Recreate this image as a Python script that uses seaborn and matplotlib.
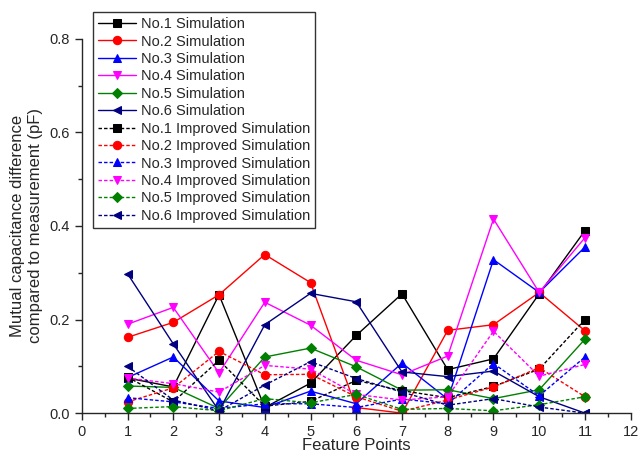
import numpy as np
import pandas as pd
import matplotlib
matplotlib.use('Agg')
import matplotlib.pyplot as plt
from matplotlib.ticker import MultipleLocator
import seaborn as sns

sns.set_style('ticks')
plt.rcParams['font.family'] = ['Liberation Sans', 'DejaVu Sans']

points = [1, 2, 3, 4, 5, 6, 7, 8, 9, 10, 11]

sim1 = [0.075, 0.056, 0.253, 0.012, 0.064, 0.166, 0.255, 0.093, 0.116, 0.255, 0.39]
sim2 = [0.162, 0.194, 0.253, 0.339, 0.279, 0.012, 0.0, 0.177, 0.189, 0.258, 0.176]
sim3 = [0.076, 0.12, 0.026, 0.012, 0.047, 0.02, 0.107, 0.03, 0.328, 0.258, 0.355]
sim4 = [0.19, 0.226, 0.086, 0.237, 0.188, 0.113, 0.082, 0.122, 0.415, 0.258, 0.375]
sim5 = [0.058, 0.055, 0.01, 0.12, 0.139, 0.099, 0.049, 0.05, 0.031, 0.05, 0.158]
sim6 = [0.298, 0.148, 0.005, 0.189, 0.256, 0.238, 0.088, 0.078, 0.09, 0.035, 0.0]

imp1 = [0.077, 0.024, 0.113, 0.015, 0.025, 0.07, 0.048, 0.033, 0.057, 0.094, 0.2]
imp2 = [0.024, 0.054, 0.132, 0.082, 0.083, 0.035, 0.004, 0.028, 0.056, 0.097, 0.035]
imp3 = [0.033, 0.024, 0.01, 0.02, 0.02, 0.012, 0.03, 0.02, 0.106, 0.037, 0.12]
imp4 = [0.075, 0.063, 0.045, 0.102, 0.094, 0.04, 0.028, 0.035, 0.175, 0.079, 0.104]
imp5 = [0.01, 0.014, 0.005, 0.031, 0.022, 0.04, 0.008, 0.01, 0.005, 0.018, 0.035]
imp6 = [0.1, 0.028, 0.005, 0.06, 0.11, 0.074, 0.045, 0.017, 0.031, 0.013, 0.0]

names = ['No.1', 'No.2', 'No.3', 'No.4', 'No.5', 'No.6']
colors = ['black', '#ff0000', '#0000ff', '#ff00ff', '#008000', '#000080']
markers = ['s', 'o', '^', 'v', 'D', '<']
sims = [sim1, sim2, sim3, sim4, sim5, sim6]
imps = [imp1, imp2, imp3, imp4, imp5, imp6]

fig, ax = plt.subplots(figsize=(6.39, 4.57), dpi=100)
fig.subplots_adjust(left=0.128, right=0.987, bottom=0.096, top=0.915)

for name, c, m, vals in zip(names, colors, markers, sims):
    sns.lineplot(x=points, y=vals, ax=ax, color=c, marker=m, markersize=6 if m != 'D' else 5,
                 markeredgecolor=c, linewidth=1.0, label=name + ' Simulation')

for name, c, m, vals in zip(names, colors, markers, imps):
    sns.lineplot(x=points, y=vals, ax=ax, color=c, marker=m, markersize=6 if m != 'D' else 5,
                 markeredgecolor=c, linewidth=1.0, linestyle=(0, (2.5, 1.5)),
                 label=name + ' Improved Simulation')

ax.set_xlim(0, 12)
ax.set_ylim(0, 0.8)
ax.xaxis.set_major_locator(MultipleLocator(1))
ax.xaxis.set_minor_locator(MultipleLocator(0.5))
ax.yaxis.set_major_locator(MultipleLocator(0.2))
ax.yaxis.set_minor_locator(MultipleLocator(0.1))
ax.tick_params(which='major', direction='out', length=5, width=1, labelsize=10.5)
ax.tick_params(which='minor', direction='out', length=3, width=1)
sns.despine(ax=ax)
for s in ['left', 'bottom']:
    ax.spines[s].set_linewidth(1.0)

ax.set_xlabel('Feature Points', fontsize=12, labelpad=-1)
ax.set_ylabel('Mutual capacitance difference\ncompared to measurement (pF)', fontsize=12, labelpad=5)

leg = ax.legend(loc='upper left', bbox_to_anchor=(93 / 639, 1 - 12 / 457),
                bbox_transform=fig.transFigure, fontsize=10.5, frameon=True, fancybox=False,
                edgecolor='#333333', framealpha=1, borderpad=0.35, labelspacing=0.235,
                handlelength=2.6, handletextpad=0.35, borderaxespad=0)
leg.get_frame().set_linewidth(1.0)

fig.savefig('out.png', dpi=100)
